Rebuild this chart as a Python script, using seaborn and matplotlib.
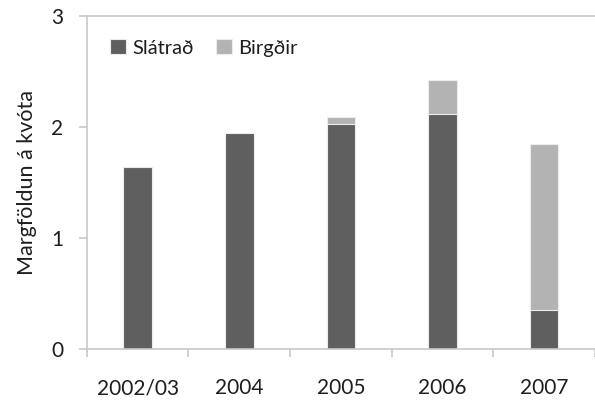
import matplotlib
matplotlib.use("Agg")
import matplotlib.pyplot as plt
import seaborn as sns
import pandas as pd
import numpy as np

categories = ["2002/03", "2004", "2005", "2006", "2007"]
slatrad = [1.64, 1.95, 2.03, 2.12, 0.35]
birgdir = [0.00, 0.00, 0.06, 0.30, 1.50]

sns.set_theme(style="white")
plt.rcParams['font.family'] = ['Lato', 'DejaVu Sans']

dark = "#5f5f5f"
light = "#b3b3b3"
axcol = "#c8c8c8"
txt = "#1e1e1e"

df = pd.DataFrame({"cat": categories,
                   "Slátrað": slatrad,
                   "Birgðir": birgdir})
df["total"] = df["Slátrað"] + df["Birgðir"]

fig = plt.figure(figsize=(5.95, 4.01), dpi=100)
ax = fig.add_axes([0.146, 0.13, 0.854, 0.83])

sns.barplot(data=df, x="cat", y="total", color=light, saturation=1,
            width=0.28, edgecolor="#ececec", linewidth=0.8, ax=ax, label="Birgðir")
sns.barplot(data=df, x="cat", y="Slátrað", color=dark, saturation=1,
            width=0.28, edgecolor="#ececec", linewidth=0.8, ax=ax, label="Slátrað")

ax.set_ylim(0, 3)
ax.set_xlim(-0.5, 4.5)
ax.set_yticks([0, 1, 2, 3])
ax.set_yticklabels(["0", "1", "2", "3"])
ax.set_xlabel("")
ax.set_ylabel("Margföldun á kvóta", fontsize=15.5, color=txt, labelpad=10)

for s in ["left", "bottom", "top"]:
    ax.spines[s].set_color(axcol)
    ax.spines[s].set_linewidth(1.2)
ax.spines["right"].set_visible(False)

ax.tick_params(axis="y", which="major", left=True, length=6, width=1.2, color=axcol,
               labelsize=15, labelcolor=txt, pad=11)
ax.set_xticks(np.arange(-0.5, 5.0, 1.0), minor=True)
ax.tick_params(axis="x", which="minor", bottom=True, length=6, width=1.2, color=axcol)
ax.tick_params(axis="x", which="major", bottom=False, length=0, labelsize=15,
               labelcolor=txt, pad=21)

handles, labels = ax.get_legend_handles_labels()
order = [labels.index("Slátrað"), labels.index("Birgðir")]
leg = ax.legend([handles[i] for i in order], [labels[i] for i in order],
                loc="upper left", bbox_to_anchor=(0.03, 0.955), ncol=2, frameon=False,
                fontsize=14.5, handlelength=0.8, handleheight=0.8, handletextpad=0.3,
                columnspacing=1.1, borderaxespad=0)
for t in leg.get_texts():
    t.set_color(txt)

fig.savefig("out.png", dpi=100)
